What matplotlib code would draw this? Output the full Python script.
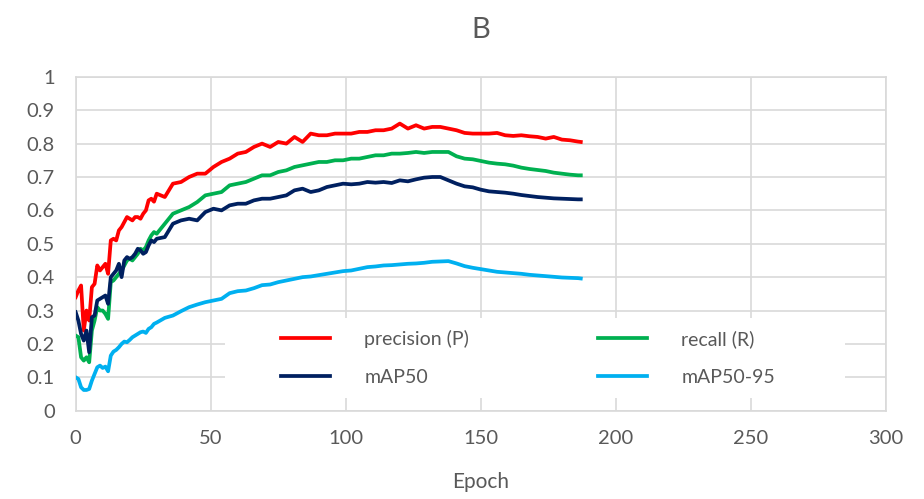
import matplotlib.pyplot as plt
from matplotlib.patches import Rectangle

# epochs: every epoch up to 30, then every third epoch
epochs = list(range(0, 31)) + list(range(33, 187, 3)) + [187]

precision = [0.34, 0.36, 0.375, 0.24, 0.30, 0.27, 0.37, 0.38, 0.435, 0.42, 0.43, 0.44, 0.41,
             0.51, 0.515, 0.51, 0.54, 0.55, 0.565, 0.58, 0.575, 0.57, 0.58, 0.58, 0.575, 0.59,
             0.60, 0.63, 0.635, 0.626, 0.65,
             0.64, 0.68, 0.685, 0.70, 0.71, 0.71, 0.73, 0.745, 0.755, 0.77,
             0.775, 0.79, 0.80, 0.79, 0.805, 0.80, 0.82, 0.805, 0.83, 0.825,
             0.825, 0.83, 0.83, 0.83, 0.835, 0.835, 0.84, 0.84, 0.845, 0.86,
             0.845, 0.855, 0.845, 0.85, 0.85, 0.845, 0.84, 0.832, 0.83, 0.83,
             0.83, 0.832, 0.825, 0.823, 0.825, 0.822, 0.82, 0.815, 0.82, 0.812,
             0.81, 0.806, 0.805]

recall = [0.225, 0.22, 0.16, 0.15, 0.16, 0.145, 0.24, 0.27, 0.31, 0.30, 0.30, 0.29, 0.275,
          0.385, 0.39, 0.40, 0.41, 0.42, 0.435, 0.45, 0.455, 0.45, 0.46, 0.47, 0.485, 0.48,
          0.49, 0.51, 0.525, 0.535, 0.53,
          0.56, 0.59, 0.60, 0.61, 0.625, 0.645, 0.65, 0.655, 0.675, 0.68,
          0.685, 0.695, 0.705, 0.705, 0.715, 0.72, 0.73, 0.735, 0.74, 0.745,
          0.745, 0.75, 0.75, 0.755, 0.755, 0.76, 0.765, 0.765, 0.77, 0.77,
          0.772, 0.775, 0.772, 0.775, 0.775, 0.775, 0.762, 0.755, 0.753, 0.748,
          0.743, 0.74, 0.738, 0.734, 0.728, 0.724, 0.721, 0.718, 0.713, 0.71,
          0.707, 0.705, 0.705]

map50 = [0.295, 0.27, 0.23, 0.21, 0.24, 0.175, 0.28, 0.285, 0.33, 0.335, 0.34, 0.345, 0.32,
         0.40, 0.41, 0.42, 0.44, 0.40, 0.45, 0.46, 0.455, 0.46, 0.47, 0.485, 0.48, 0.47,
         0.475, 0.495, 0.51, 0.505, 0.515,
         0.52, 0.56, 0.57, 0.575, 0.57, 0.595, 0.605, 0.60, 0.615, 0.62,
         0.62, 0.63, 0.635, 0.635, 0.64, 0.645, 0.66, 0.665, 0.655, 0.66,
         0.67, 0.675, 0.68, 0.678, 0.68, 0.685, 0.683, 0.685, 0.682, 0.69,
         0.687, 0.693, 0.698, 0.70, 0.70, 0.69, 0.68, 0.672, 0.669, 0.662,
         0.657, 0.655, 0.653, 0.65, 0.646, 0.643, 0.64, 0.638, 0.636, 0.635,
         0.634, 0.633, 0.633]

map50_95 = [0.10, 0.095, 0.07, 0.062, 0.062, 0.065, 0.09, 0.11, 0.13, 0.135, 0.128, 0.132, 0.118,
            0.165, 0.177, 0.182, 0.19, 0.20, 0.207, 0.205, 0.212, 0.22, 0.225, 0.23, 0.235,
            0.237, 0.233, 0.245, 0.25, 0.26, 0.264,
            0.278, 0.285, 0.298, 0.31, 0.318, 0.325, 0.33, 0.335, 0.352, 0.358,
            0.36, 0.367, 0.376, 0.378, 0.385, 0.39, 0.395, 0.40, 0.402, 0.406,
            0.41, 0.414, 0.418, 0.42, 0.425, 0.43, 0.432, 0.435, 0.436, 0.438,
            0.44, 0.441, 0.443, 0.446, 0.447, 0.448, 0.441, 0.433, 0.428, 0.424,
            0.42, 0.416, 0.414, 0.412, 0.41, 0.407, 0.405, 0.403, 0.401, 0.399,
            0.398, 0.397, 0.396]

series = [
    ('precision (P)', precision, '#FF0000'),
    ('recall (R)', recall, '#00B050'),
    ('mAP50', map50, '#002060'),
    ('mAP50-95', map50_95, '#00B0F0'),
]

x_ticks = [0, 50, 100, 150, 200, 250, 300]
y_ticks = [0, 0.1, 0.2, 0.3, 0.4, 0.5, 0.6, 0.7, 0.8, 0.9, 1]

text_col = '#595959'
grid_col = '#D9D9D9'
plt.rcParams['font.family'] = ['Lato', 'DejaVu Sans']

fig = plt.figure(figsize=(9.24, 4.99), dpi=100)
ax = fig.add_axes([0.0819, 0.177, 0.877, 0.669])

lines = {}
for name, vals, col in series:
    lines[name], = ax.plot(epochs, vals, color=col, lw=2.7, label=name, zorder=3)

ax.set_xlim(0, 300)
ax.set_ylim(0, 1)
ax.set_xticks(x_ticks)
ax.set_yticks(y_ticks)
ax.set_yticklabels([f'{v:g}' for v in y_ticks])
ax.tick_params(length=0, labelsize=14.5, colors=text_col)
ax.tick_params(axis='x', pad=14)
ax.tick_params(axis='y', pad=15)
ax.set_axisbelow(True)
ax.grid(True, color=grid_col, lw=1.2)
for sp in ax.spines.values():
    sp.set_color(grid_col)
    sp.set_linewidth(1.2)

ax.set_xlabel('Epoch', fontsize=15, color=text_col, labelpad=18)
ax.set_title('B', fontsize=21, color=text_col, pad=28)

# white box behind the legend, hides the grid like in excel
ax.add_patch(Rectangle((0.184, 0.038), 0.765, 0.24, transform=ax.transAxes,
                       facecolor='white', edgecolor='none', zorder=2))

order = ['precision (P)', 'mAP50', 'recall (R)', 'mAP50-95']
ax.legend([lines[k] for k in order], order, ncol=2, frameon=False,
          loc='center', bbox_to_anchor=(0.558, 0.158), fontsize=14,
          labelcolor=text_col, handlelength=2.55, handletextpad=1.75,
          columnspacing=6.6, labelspacing=1.05)

fig.savefig('out.png', dpi=100)
